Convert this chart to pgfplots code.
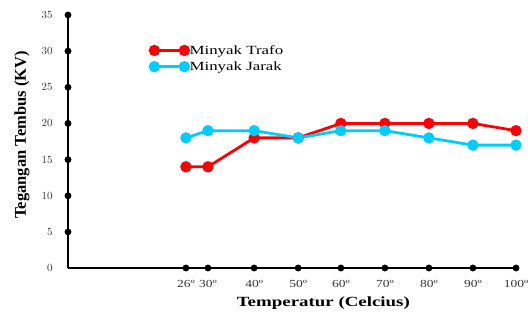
\documentclass[border=0pt]{standalone}
\usepackage{pgfplots}
\pgfplotsset{compat=1.18}
\usepackage{fontspec}
\setmainfont{Liberation Serif}
\newfontfamily\wideserif{Liberation Serif}[FakeStretch=1.35]
\newfontfamily\tickserif{Liberation Serif}[FakeStretch=1.25]
\definecolor{trafo}{RGB}{255,0,0}
\definecolor{jarak}{RGB}{0,204,255}
\definecolor{ticktxt}{RGB}{50,50,50}
\begin{document}
\begin{tikzpicture}
\begin{axis}[
  name=ax,
  at={(0,0)}, anchor=south west,
  scale only axis,
  width=448bp, height=253bp,
  xmin=0, xmax=10.18, ymin=0, ymax=35,
  clip=false,
  axis x line=bottom, axis y line=left,
  axis line style={-, line width=1.8bp, black},
  major tick length=0pt,
  ytick={0,5,10,15,20,25,30,35},
  xtick={2.68,3.18,4.23,5.23,6.2,7.2,8.2,9.2,10.18},
  xticklabels={26º,30º,40º,50º,60º,70º,80º,90º,100º},
  tick label style={font=\tickserif\fontsize{10.8bp}{12bp}\selectfont, text=ticktxt},
  yticklabel style={xshift=-12bp},
  xticklabel style={yshift=-9bp},
  xlabel={\wideserif\bfseries Temperatur (Celcius)},
  ylabel={\bfseries Tegangan Tembus (KV)},
  xlabel style={font=\fontsize{14bp}{16bp}\selectfont, at={(axis description cs:0.57,0)}, anchor=center, yshift=-35bp},
  ylabel style={font=\fontsize{16.5bp}{18bp}\selectfont, at={(axis description cs:0,0.526)}, anchor=center, yshift=46bp},
  legend style={draw=none, fill=none, at={(axis description cs:0.183,0.885)}, anchor=north west,
    font=\wideserif\fontsize{12.5bp}{13bp}\selectfont, row sep=4bp, inner sep=0pt,
    nodes={inner sep=1bp}},
  legend cell align=left,
  legend image code/.code={\draw[#1] plot coordinates {(0bp,0bp) (30bp,0bp)};},
]
\addplot[trafo, line width=2.8bp, mark=*, mark size=4.2bp, mark options={solid}]
  coordinates {(2.68,14) (3.18,14) (4.23,18) (5.23,18) (6.2,20) (7.2,20) (8.2,20) (9.2,20) (10.18,19)};
\addlegendentry{Minyak Trafo}
\addplot[jarak, line width=2.8bp, mark=*, mark size=4.2bp, mark options={solid}]
  coordinates {(2.68,18) (3.18,19) (4.23,19) (5.23,18) (6.2,19) (7.2,19) (8.2,18) (9.2,17) (10.18,17)};
\addlegendentry{Minyak Jarak}
\addplot[black, only marks, mark=*, mark size=3.2bp, forget plot]
  coordinates {(0,5) (0,10) (0,15) (0,20) (0,25) (0,30) (0,35)};
\addplot[black, only marks, mark=*, mark size=3.2bp, forget plot]
  coordinates {(2.68,0) (3.18,0) (4.23,0) (5.23,0) (6.2,0) (7.2,0) (8.2,0) (9.2,0) (10.18,0)};
\end{axis}
\pgfresetboundingbox
\path[use as bounding box] (-68bp,-47bp) rectangle (460bp,268bp);
\end{tikzpicture}
\end{document}
